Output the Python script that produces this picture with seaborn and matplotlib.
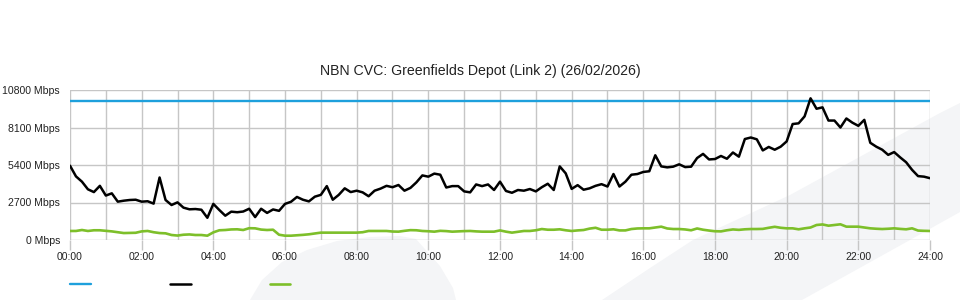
import matplotlib
matplotlib.use("Agg")
import matplotlib.pyplot as plt
from matplotlib.patches import Polygon
from matplotlib.ticker import MultipleLocator
import seaborn as sns
import pandas as pd

# ---------------- data ----------------
minutes = list(range(0, 1441, 10))          # 10-minute samples, 00:00 .. 24:00

traffic_in = [
    5350, 4580, 4200, 3650, 3450, 3900, 3200, 3360, 2760, 2830, 2880, 2900,
    2760, 2790, 2620, 4500, 2880, 2520, 2710, 2330, 2210, 2230, 2180, 1600,
    2600, 2160, 1750, 2040, 2000, 2050, 2250, 1650, 2250, 1950, 2200, 2100,
    2600, 2750, 3100, 2900, 2780, 3120, 3250, 3880, 2900, 3250, 3720, 3450,
    3550, 3430, 3150, 3550, 3700, 3900, 3800, 3960, 3550, 3750, 4150, 4650,
    4560, 4780, 4700, 3780, 3880, 3880, 3500, 3430, 4000, 3880, 4000, 3600,
    4200, 3530, 3400, 3600, 3550, 3670, 3500, 3800, 4050, 3600, 5300, 4800,
    3680, 3950, 3620, 3720, 3900, 4020, 3850, 4750, 3850, 4200, 4700, 4750,
    4900, 4950, 6100, 5300, 5230, 5280, 5450, 5250, 5280, 5900, 6200, 5800,
    5830, 6050, 5850, 6300, 6000, 7270, 7380, 7250, 6450, 6700, 6500, 6720,
    7100, 8350, 8400, 8900, 10200, 9450, 9550, 8600, 8600, 8100, 8750, 8450,
    8220, 8650, 7000, 6720, 6500, 6130, 6330, 5950, 5600, 5050, 4600, 4560,
    4450,
]

traffic_out = [
    650, 650, 720, 650, 700, 700, 660, 620, 560, 500, 510, 520,
    620, 650, 560, 500, 480, 360, 320, 380, 400, 360, 360, 310,
    550, 700, 720, 760, 770, 720, 850, 840, 750, 720, 740, 380,
    310, 310, 340, 370, 410, 470, 530, 530, 530, 530, 530, 530,
    530, 560, 650, 650, 650, 650, 610, 600, 660, 710, 700, 650,
    630, 600, 660, 640, 600, 620, 640, 650, 620, 600, 600, 600,
    690, 600, 530, 590, 650, 650, 700, 790, 740, 740, 770, 700,
    650, 690, 720, 820, 880, 740, 740, 770, 690, 690, 790, 830,
    840, 840, 900, 960, 830, 790, 790, 760, 700, 830, 740, 680,
    630, 620, 700, 760, 730, 770, 790, 790, 800, 880, 950, 880,
    840, 840, 770, 840, 900, 1080, 1120, 1030, 1080, 1130, 960, 960,
    960, 900, 840, 810, 790, 810, 840, 800, 770, 840, 680, 660,
    650,
]

capacity_minutes = [0, 1440]
capacity_mbps = [10000, 10000]

y_ticks = [0, 2700, 5400, 8100, 10800]
x_tick_hours = list(range(0, 25, 2))
title = "NBN CVC: Greenfields Depot (Link 2) (26/02/2026)"

# ---------------- style ----------------
sns.set_style("white")
plt.rcParams["font.family"] = ["Liberation Sans", "DejaVu Sans"]

BLUE = "#1ea0dc"
BLACK = "#000000"
GREEN = "#7dbf2a"
GRID = "#c6c6c6"
WM = "#f4f5f7"

fig = plt.figure(figsize=(9.6, 3.0), dpi=100)
fig.patch.set_facecolor("white")

# background watermark (decorative swoosh), figure pixel coords -> fraction
def px(pts):
    return [(x / 960.0, 1 - y / 300.0) for x, y in pts]

dome = px([(250, 300), (262, 280), (282, 262), (307, 250), (337, 241),
           (370, 237), (400, 236), (416, 239), (440, 266), (453, 288), (456, 300)])
band = px([(602, 300), (650, 268), (693, 240), (790, 195), (940, 113),
           (960, 103), (960, 212), (910, 240), (802, 300)])
for poly in (dome, band):
    fig.patches.append(Polygon(poly, closed=True, transform=fig.transFigure,
                               facecolor=WM, edgecolor="none", zorder=-10))

ax = fig.add_axes([70 / 960, 1 - 240 / 300, 860 / 960, 150 / 300])
ax.set_facecolor("none")
ax.set_zorder(1)

df_in = pd.DataFrame({"hour": [m / 60 for m in minutes], "mbps": traffic_in})
df_out = pd.DataFrame({"hour": [m / 60 for m in minutes], "mbps": traffic_out})
df_cap = pd.DataFrame({"hour": [m / 60 for m in capacity_minutes], "mbps": capacity_mbps})

sns.lineplot(data=df_cap, x="hour", y="mbps", ax=ax, color=BLUE, lw=1.7, legend=False, zorder=3)
sns.lineplot(data=df_in, x="hour", y="mbps", ax=ax, color=BLACK, lw=1.8, legend=False, zorder=4)
sns.lineplot(data=df_out, x="hour", y="mbps", ax=ax, color=GREEN, lw=1.9, legend=False, zorder=4)

ax.set_xlim(0, 24)
ax.set_ylim(0, 10800)
ax.set_xlabel("")
ax.set_ylabel("")

ax.set_xticks(x_tick_hours)
ax.set_xticklabels([f"{h:02d}:00" for h in x_tick_hours])
ax.xaxis.set_minor_locator(MultipleLocator(1))
ax.set_yticks(y_ticks)
ax.set_yticklabels([f"{v} Mbps" for v in y_ticks])

ax.grid(True, which="major", axis="both", color=GRID, lw=1.0, zorder=1)
ax.grid(True, which="minor", axis="x", color=GRID, lw=1.0, zorder=1)
for s in ax.spines.values():
    s.set_visible(False)

ax.tick_params(axis="x", which="major", length=7.5, width=1.0, color=GRID,
               labelsize=7.5, labelcolor="#222222", pad=1.5, direction="out")
ax.tick_params(axis="x", which="minor", length=0)
ax.tick_params(axis="y", length=0, labelsize=7.6, labelcolor="#222222", pad=7.2)
ax.tick_params(axis="x", bottom=True)

# title is centred on the whole figure in the reference
fig.text(0.5, 1 - 71 / 300, title, ha="center", va="center",
         fontsize=10.2, color="#222222")

handles = ax.get_lines()[:3]
fig.legend(handles, ["", "", ""], ncol=3, loc="center left",
           bbox_to_anchor=(70 / 960, 1 - 285 / 300), frameon=False,
           fontsize=7.5, handlelength=2.0, handletextpad=0.0,
           columnspacing=7.58, borderpad=0, borderaxespad=0)

fig.savefig("out.png", dpi=100, facecolor="white")
